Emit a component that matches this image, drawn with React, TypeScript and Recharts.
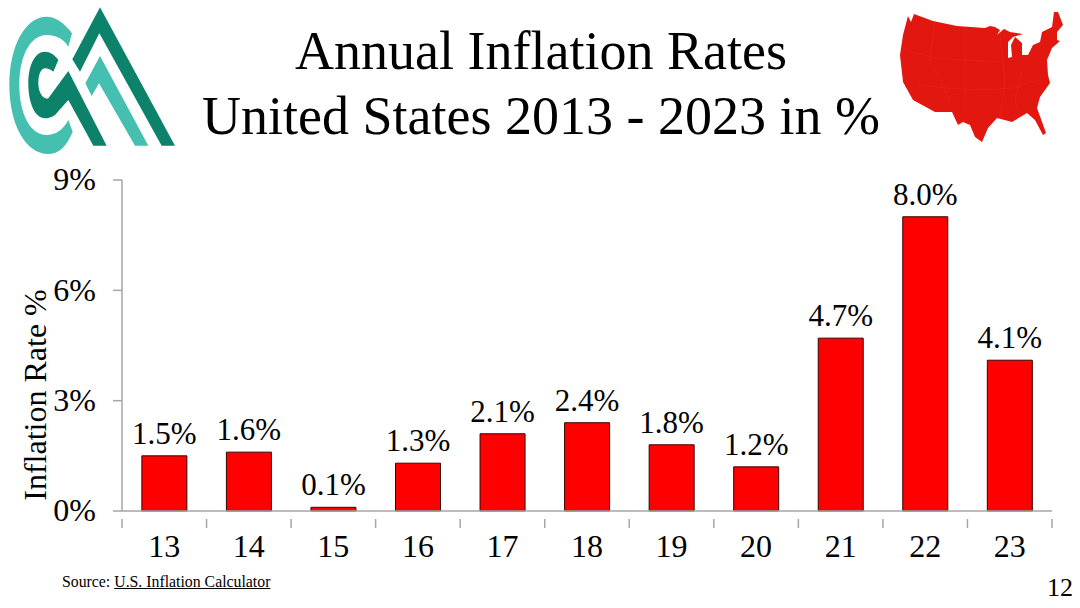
import { BarChart, Bar, XAxis, YAxis, LabelList } from "recharts";

const years = ["13", "14", "15", "16", "17", "18", "19", "20", "21", "22", "23"];
const rates = [1.5, 1.6, 0.1, 1.3, 2.1, 2.4, 1.8, 1.2, 4.7, 8.0, 4.1];
const yTicks = [0, 3, 6, 9];
const titleLines = ["Annual Inflation Rates", "United States 2013 - 2023 in %"];

const chartData = years.map((year, i) => ({ year, rate: rates[i] }));

const serif = '"Liberation Serif", serif';
const axisGrey = "#a6a6a6";
const plotLeft = 122;
const plotRight = 1052;
const bandWidth = (plotRight - plotLeft) / years.length;

function YearTick({ x, y, payload, index }: any) {
  const isLast = index === years.length - 1;
  return (
    <g>
      <line x1={x - bandWidth / 2} x2={x - bandWidth / 2} y1={y} y2={y + 9} stroke={axisGrey} strokeWidth={1.5} />
      {isLast && <line x1={x + bandWidth / 2} x2={x + bandWidth / 2} y1={y} y2={y + 9} stroke={axisGrey} strokeWidth={1.5} />}
      <text x={x} y={y + 38} textAnchor="middle" fontFamily={serif} fontSize={32} fill="#000">
        {payload.value}
      </text>
    </g>
  );
}

function Logo() {
  const dark = "#0b8269";
  const teal = "#45bfb0";
  return (
    <svg width={200} height={170} viewBox="0 0 600 510" style={{ position: "absolute", left: 0, top: 0 }}>
      <path
        d="M216,100 C190,65 165,50 140,50 C75,50 28,140 28,255 C28,370 75,462 145,462 C175,462 200,440 218,395 L205,360 C190,390 165,405 140,405 C90,405 58,340 58,255 C58,170 90,105 140,105 C165,105 190,115 205,140 Z"
        fill={teal}
      />
      <path
        d="M175,180 C165,165 150,155 135,155 C105,155 85,195 85,250 C85,310 105,355 135,355 C145,355 155,352 165,345 L205,300 L280,437 L320,437 L205,213 L145,295 C135,300 115,285 115,250 C115,220 125,205 135,205 C145,205 152,210 160,215 Z"
        fill={dark}
      />
      <polygon points="300,22 525,437 485,437 298,100 240,215 217,178" fill={dark} />
      <polygon points="300,168 445,437 405,437 297,250 275,288 256,250" fill={teal} />
    </svg>
  );
}

function UsMap() {
  const outline =
    "908,16 911,22 914,14 933,21 957,26 985,28 990,26 995,27 1000,30 997,35 1004,29 1010,32 1023,34 1013,37 1008,42 1008,58 1012,57 1011,45 1015,37 1022,43 1022,55 1028,55 1033,45 1040,42 1042,32 1052,27 1054,12 1058,12 1063,25 1057,32 1057,40 1060,41 1052,48 1047,60 1048,75 1050,83 1040,97 1037,108 1046,133 1043,135 1035,120 1027,113 1012,122 997,118 988,128 982,142 975,137 970,125 963,122 958,125 952,112 935,112 913,100 903,82 900,55 903,35";
  return (
    <svg width={1080} height={150} style={{ position: "absolute", left: 0, top: 0 }}>
      <polygon points={outline} fill="#e2170f" />
      <g fill="none" stroke="#ec3a30" strokeWidth={0.7} opacity={0.4}>
        <polyline points="904,50 935,58 965,60 1000,62" />
        <polyline points="918,85 945,88 985,90 1010,88 1040,80" />
        <polyline points="935,21 930,60 950,100" />
        <polyline points="965,27 965,112" />
        <polyline points="1000,35 1005,80 1000,118" />
        <polyline points="1022,70 1015,100 1020,116" />
      </g>
    </svg>
  );
}

export default function App() {
  return (
    <div style={{ position: "absolute", left: 0, top: 0, width: 1080, height: 608, background: "#fff", overflow: "hidden", fontFamily: serif, color: "#000" }}>
      <BarChart
        width={1080}
        height={608}
        data={chartData}
        margin={{ top: 180, right: 1080 - plotRight, left: 0, bottom: 0 }}
        barCategoryGap="23.5%"
      >
        <XAxis
          dataKey="year"
          height={97}
          interval={0}
          axisLine={{ stroke: axisGrey, strokeWidth: 1.5 }}
          tickLine={false}
          tick={<YearTick />}
        />
        <YAxis
          width={plotLeft}
          domain={[0, 9]}
          ticks={yTicks}
          interval={0}
          tickFormatter={(v) => `${v}%`}
          axisLine={{ stroke: axisGrey, strokeWidth: 1.5 }}
          tickLine={{ stroke: axisGrey, strokeWidth: 1.5 }}
          tickSize={9}
          tickMargin={17}
          tick={{ fontFamily: serif, fontSize: 32, fill: "#000", dy: -1 }}
          label={{
            content: () => (
              <text transform="translate(46,395) rotate(-90)" textAnchor="middle" fontFamily={serif} fontSize={32} fill="#000">
                Inflation Rate %
              </text>
            ),
          }}
        />
        <Bar dataKey="rate" fill="#ff0000" stroke="#3a0000" strokeWidth={1} isAnimationActive={false}>
          <LabelList
            dataKey="rate"
            position="top"
            offset={12}
            formatter={(v: number) => `${v.toFixed(1)}%`}
            style={{ fontFamily: serif, fontSize: 31, fill: "#000" }}
          />
        </Bar>
      </BarChart>

      <div style={{ position: "absolute", left: 0, top: 19, width: 1082, textAlign: "center", fontSize: 54, lineHeight: "65px" }}>
        {titleLines.map((line) => (
          <div key={line}>{line}</div>
        ))}
      </div>
      <Logo />
      <UsMap />
      <div style={{ position: "absolute", left: 62, top: 573, fontSize: 15.8, whiteSpace: "nowrap" }}>
        Source: <span style={{ textDecoration: "underline" }}>U.S. Inflation Calculator</span>
      </div>
      <div style={{ position: "absolute", left: 1047, top: 573, fontSize: 26 }}>12</div>
    </div>
  );
}
